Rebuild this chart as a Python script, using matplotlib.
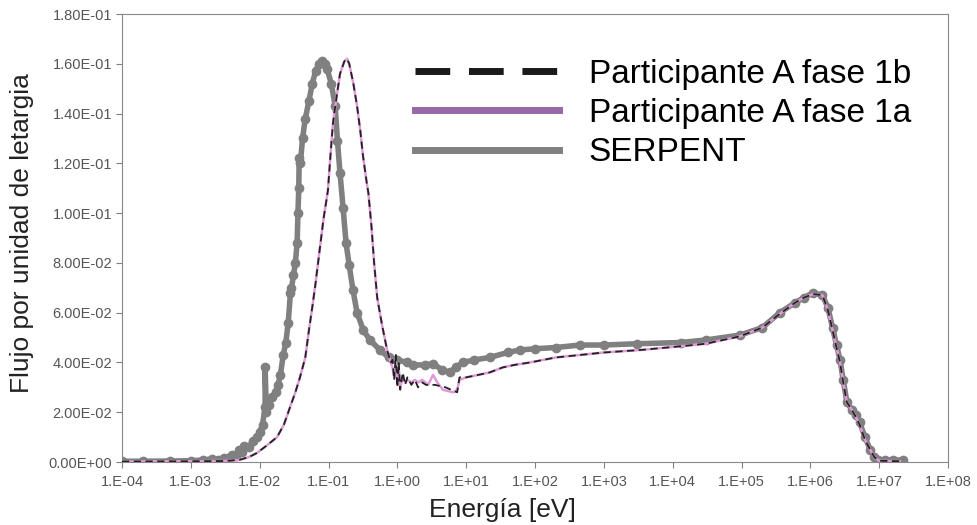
import math
import matplotlib.pyplot as plt
from matplotlib.lines import Line2D
from matplotlib.ticker import FuncFormatter

plt.rcParams['font.family'] = ['Liberation Sans', 'DejaVu Sans']

# SERPENT
e_serp = [1e-4, 2e-4, 5e-4, 1e-3, 1.5e-3, 2e-3, 2.5e-3, 3e-3, 3.5e-3, 4e-3,
          4.5e-3, 5e-3, 5.5e-3, 6e-3, 7e-3, 8e-3, 9e-3, 1.0e-2, 1.1e-2, 1.2e-2,
          1.2e-2, 1.25e-2, 1.35e-2, 1.5e-2, 1.7e-2, 1.85e-2, 2.0e-2, 2.2e-2, 2.4e-2, 2.6e-2,
          2.8e-2, 2.9e-2, 3.1e-2, 3.3e-2, 3.5e-2, 3.6e-2, 3.7e-2, 3.75e-2, 3.9e-2, 4.2e-2,
          4.6e-2, 5.2e-2, 5.8e-2, 6.5e-2, 7.2e-2, 8.0e-2, 8.8e-2, 9.5e-2, 0.11, 0.125,
          0.135, 0.147, 0.163, 0.18, 0.2, 0.227, 0.26, 0.32, 0.4, 0.56,
          0.75, 1.0, 1.4, 1.7, 2.5, 3.3, 4.5, 5.8, 7.0, 9.0,
          13, 22, 40, 60, 100, 200, 450, 1e3, 3e3, 1.3e4,
          3e4, 9.5e4, 2e5, 3.6e5, 6e5, 8e5, 1.1e6, 1.5e6, 1.8e6, 2.1e6,
          2.4e6, 2.7e6, 3.0e6, 3.4e6, 4.0e6, 4.6e6, 5.2e6, 6.2e6, 7.4e6, 8.5e6,
          9.6e6, 1.2e7, 1.6e7, 2.2e7]
f_serp = [0.0003, 0.0003, 0.0004, 0.0005, 0.0008, 0.0012, 0.0010, 0.0018, 0.0015, 0.0030,
          0.0025, 0.0050, 0.0040, 0.0065, 0.0060, 0.0085, 0.0100, 0.0120, 0.0150, 0.0220,
          0.0380, 0.0200, 0.0230, 0.0260, 0.0280, 0.0310, 0.0350, 0.0430, 0.0480, 0.0560,
          0.0680, 0.0700, 0.0750, 0.0800, 0.0880, 0.1000, 0.1100, 0.1220, 0.1200, 0.1300,
          0.1380, 0.1450, 0.1520, 0.1570, 0.1600, 0.1610, 0.1600, 0.1580, 0.1520, 0.1430,
          0.1290, 0.1160, 0.1020, 0.0880, 0.0790, 0.0690, 0.0600, 0.0530, 0.0490, 0.0450,
          0.0420, 0.0410, 0.0400, 0.0390, 0.0390, 0.0395, 0.0370, 0.0360, 0.0380, 0.0400,
          0.0410, 0.0420, 0.0440, 0.0450, 0.0455, 0.0460, 0.0470, 0.0470, 0.0475, 0.0480,
          0.0490, 0.0510, 0.0540, 0.0600, 0.0640, 0.0660, 0.0680, 0.0670, 0.0620, 0.0540,
          0.0470, 0.0410, 0.0330, 0.0240, 0.0210, 0.0190, 0.0160, 0.0100, 0.0050, 0.0020,
          0.0010, 0.0008, 0.0008, 0.0008]

# Participante A fase 1b
e_1b = [1e-4, 1e-3, 3e-3, 5e-3, 7e-3, 9.1e-3, 1.25e-2, 1.79e-2, 2.25e-2, 2.76e-2,
        3.3e-2, 3.85e-2, 4.6e-2, 5.2e-2, 5.8e-2, 6.5e-2, 7.05e-2, 7.5e-2, 8.5e-2, 9.8e-2,
        0.108, 0.116, 0.13, 0.147, 0.17, 0.186, 0.2, 0.23, 0.26, 0.29,
        0.317, 0.36, 0.38, 0.42, 0.46, 0.51, 0.6, 0.71, 0.8, 0.85,
        0.9, 0.95, 1.0, 1.05, 1.1, 1.2, 1.3, 1.4, 1.6, 1.8,
        2.0, 2.3, 2.6, 3.5, 5.0, 7.4, 8.0, 10, 15, 22,
        34, 50, 85, 200, 450, 1e3, 3.4e3, 1.3e4, 3e4, 9.5e4,
        2e5, 3.6e5, 6e5, 8e5, 1.1e6, 1.5e6, 1.8e6, 2.1e6, 2.4e6, 2.7e6,
        3.0e6, 3.4e6, 4.0e6, 4.6e6, 5.2e6, 6.2e6, 7.4e6, 8.5e6, 1e7, 2e7]
f_1b = [0.0002, 0.0003, 0.0004, 0.0008, 0.0020, 0.0036, 0.0065, 0.0100, 0.0150, 0.0220,
        0.0280, 0.0340, 0.0420, 0.0530, 0.0620, 0.0720, 0.0800, 0.0860, 0.0980, 0.1090,
        0.1250, 0.1360, 0.1460, 0.1560, 0.1610, 0.1620, 0.1600, 0.1520, 0.1430, 0.1330,
        0.1230, 0.1120, 0.1080, 0.0950, 0.0800, 0.0660, 0.0550, 0.0450, 0.0400, 0.0410,
        0.0330, 0.0430, 0.0300, 0.0400, 0.0290, 0.0360, 0.0310, 0.0340, 0.0310, 0.0330,
        0.0300, 0.0320, 0.0310, 0.0310, 0.0300, 0.0280, 0.0340, 0.0340, 0.0350, 0.0360,
        0.0380, 0.0390, 0.0400, 0.0420, 0.0430, 0.0440, 0.0450, 0.0465, 0.0475, 0.0505,
        0.0540, 0.0595, 0.0640, 0.0660, 0.0675, 0.0670, 0.0610, 0.0530, 0.0460, 0.0400,
        0.0320, 0.0240, 0.0210, 0.0180, 0.0150, 0.0090, 0.0050, 0.0020, 0.0005, 0.0003]

# Participante A fase 1a
e_1a = [1e-4, 1e-3, 3e-3, 5e-3, 7e-3, 9.1e-3, 1.25e-2, 1.79e-2, 2.25e-2, 2.76e-2,
        3.3e-2, 3.85e-2, 4.6e-2, 5.2e-2, 5.8e-2, 6.5e-2, 7.05e-2, 7.5e-2, 8.5e-2, 9.8e-2,
        0.108, 0.116, 0.13, 0.147, 0.17, 0.186, 0.2, 0.23, 0.26, 0.29,
        0.317, 0.36, 0.38, 0.42, 0.46, 0.51, 0.6, 0.71, 0.8, 0.85,
        0.9, 0.95, 1.0, 1.05, 1.1, 1.2, 1.3, 1.4, 1.6, 1.8,
        2.0, 2.3, 2.8, 3.3, 3.8, 4.6, 6.5, 7.4, 8.0, 10,
        15, 22, 34, 50, 85, 200, 450, 1e3, 3.4e3, 1.3e4,
        3e4, 9.5e4, 2e5, 3.6e5, 6e5, 8e5, 1.1e6, 1.5e6, 1.8e6, 2.1e6,
        2.4e6, 2.7e6, 3.0e6, 3.4e6, 4.0e6, 4.6e6, 5.2e6, 6.2e6, 7.4e6, 8.5e6,
        1e7, 2e7]
f_1a = [0.0002, 0.0003, 0.0004, 0.0008, 0.0020, 0.0036, 0.0065, 0.0100, 0.0150, 0.0220,
        0.0280, 0.0340, 0.0420, 0.0530, 0.0620, 0.0720, 0.0800, 0.0860, 0.0980, 0.1090,
        0.1250, 0.1360, 0.1460, 0.1560, 0.1610, 0.1620, 0.1600, 0.1520, 0.1430, 0.1330,
        0.1230, 0.1120, 0.1080, 0.0950, 0.0800, 0.0660, 0.0550, 0.0450, 0.0400, 0.0380,
        0.0340, 0.0400, 0.0310, 0.0370, 0.0300, 0.0340, 0.0320, 0.0330, 0.0320, 0.0330,
        0.0320, 0.0330, 0.0310, 0.0350, 0.0320, 0.0290, 0.0280, 0.0290, 0.0330, 0.0340,
        0.0350, 0.0360, 0.0380, 0.0390, 0.0400, 0.0420, 0.0430, 0.0440, 0.0450, 0.0465,
        0.0475, 0.0505, 0.0540, 0.0595, 0.0640, 0.0660, 0.0675, 0.0670, 0.0610, 0.0530,
        0.0460, 0.0400, 0.0320, 0.0240, 0.0210, 0.0180, 0.0150, 0.0090, 0.0050, 0.0020,
        0.0005, 0.0003]

labels = ["Participante A fase 1b", "Participante A fase 1a", "SERPENT"]

fig = plt.figure(figsize=(9.77, 5.25), dpi=100)
ax = fig.add_axes([122/977, 63/525, 826/977, 448/525])

ax.plot(e_serp, f_serp, color="#808080", lw=4, marker="o", ms=6, zorder=2)
ax.plot(e_1a, f_1a, color="#e09ad8", lw=1.8, zorder=3)
ax.plot(e_1b, f_1b, color="#222222", lw=1.3, dashes=(4, 2.5), zorder=4)

ax.set_xscale("log")
ax.set_xlim(1e-4, 1e8)
ax.set_ylim(0, 0.18)
ax.set_xticks([10.0**k for k in range(-4, 9)])
ax.minorticks_off()
ax.set_yticks([0.02*k for k in range(10)])
ax.xaxis.set_major_formatter(FuncFormatter(lambda v, p: "1.E{:+03d}".format(int(round(math.log10(v))))))
ax.yaxis.set_major_formatter(FuncFormatter(lambda v, p: "{:.2E}".format(v)))
ax.tick_params(direction="out", length=4, color="#808080", labelsize=10.5, labelcolor="#555555")
ax.tick_params(axis="x", pad=5)
ax.tick_params(axis="y", pad=3)
for s in ax.spines.values():
    s.set_color("#888888")

ax.set_xlabel("Energía [eV]", fontsize=19, color="#222222")
ax.xaxis.set_label_coords(0.46, -0.08)
ax.set_ylabel("Flujo por unidad de letargia", fontsize=19, color="#222222")
ax.yaxis.set_label_coords(-0.106, 0.51)

handles = [Line2D([], [], color="#1a1a1a", lw=5, dashes=(5, 2.7)),
           Line2D([], [], color="#9966a8", lw=5),
           Line2D([], [], color="#808080", lw=5)]
ax.legend(handles, labels, loc="upper left", bbox_to_anchor=(0.355, 0.9),
          frameon=False, fontsize=24, handlelength=4.3, handletextpad=0.9,
          labelspacing=0.25, borderpad=0, borderaxespad=0)

fig.savefig("out.png", dpi=100)
